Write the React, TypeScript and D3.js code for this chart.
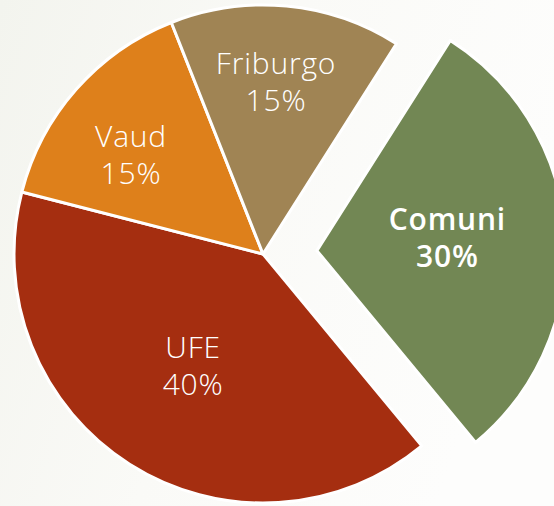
import React from "react";
import * as d3 from "d3";

const categories = ["Comuni", "UFE", "Vaud", "Friburgo"];
const values = [30, 40, 15, 15];
const labels = ["30%", "40%", "15%", "15%"];
const colors = ["#728754", "#A52E10", "#DE801B", "#A08454"];
const exploded = [true, false, false, false];
const boldLabel = [true, false, false, false];
const labelNudge: [number, number][] = [
  [-23.6, -4.3],
  [12.8, -19.3],
  [-16.2, 2],
  [-1.5, -19.3],
];

const W = 554;
const H = 506;
const CX = 263;
const CY = 254;
const R = 249;
const EXPLODE = 54;
const START = (32.4 * Math.PI) / 180;

export default function App() {
  const pie = d3
    .pie<number>()
    .sort(null)
    .value((d) => d)
    .startAngle(START)
    .endAngle(START + 2 * Math.PI);
  const arcs = pie(values);
  const arcGen = d3.arc<d3.PieArcDatum<number>>().innerRadius(0).outerRadius(R);
  const labelArc = d3
    .arc<d3.PieArcDatum<number>>()
    .innerRadius(R * 0.62)
    .outerRadius(R * 0.62);

  return (
    <svg
      width={W}
      height={H}
      style={{ position: "fixed", left: 0, top: 0, display: "block" }}
    >
      <defs>
        <linearGradient id="bg" x1="0" y1="0" x2="1" y2="0.3">
          <stop offset="0" stopColor="#F3F4EE" />
          <stop offset="0.5" stopColor="#FAFAF7" />
          <stop offset="1" stopColor="#FDFDFC" />
        </linearGradient>
      </defs>
      <rect x={0} y={0} width={W} height={H} fill="url(#bg)" />
      <g transform={`translate(${CX},${CY})`}>
        {arcs.map((a, i) => {
          const mid = (a.startAngle + a.endAngle) / 2;
          const off = exploded[i] ? EXPLODE : 0;
          const ox = Math.sin(mid) * off;
          const oy = -Math.cos(mid) * off;
          const [lx, ly] = labelArc.centroid(a);
          const tx = lx + labelNudge[i][0];
          const ty = ly + labelNudge[i][1];
          return (
            <g key={categories[i]} transform={`translate(${ox},${oy})`}>
              <path
                d={arcGen(a) || ""}
                fill={colors[i]}
                stroke="#FFFFFF"
                strokeWidth={3}
                strokeLinejoin="round"
              />
              <text
                x={tx}
                y={ty}
                textAnchor="middle"
                fill="#FFFFFF"
                fontFamily="'Open Sans', sans-serif"
                fontSize={30}
                fontWeight={boldLabel[i] ? 600 : 300}
                letterSpacing={boldLabel[i] ? 0.8 : 0.8}
              >
                <tspan x={tx} y={ty - 7}>
                  {categories[i]}
                </tspan>
                <tspan x={tx} y={ty + 30}>
                  {labels[i]}
                </tspan>
              </text>
            </g>
          );
        })}
      </g>
    </svg>
  );
}
